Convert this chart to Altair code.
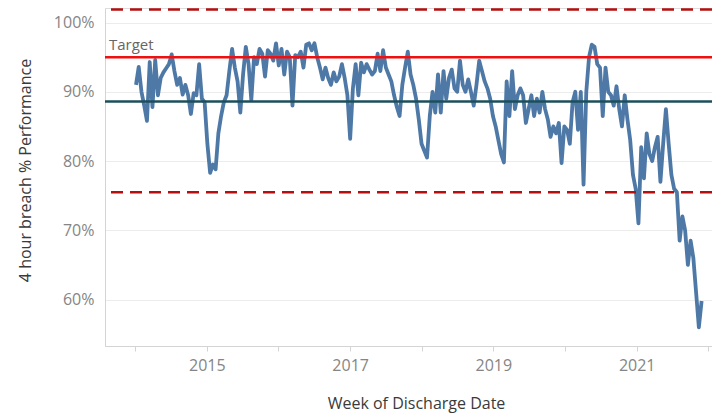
import altair as alt
import pandas as pd

# Fortnightly readings of the weekly 4-hour performance (%), starting first week of 2014
values = [
    91.0, 93.6, 90.0, 88.0, 85.8, 94.3, 87.8, 94.6, 89.5, 92.0,
    92.8, 93.4, 94.0, 95.4, 93.0, 91.0, 92.0, 89.6, 91.0, 89.5,
    86.8, 89.8, 89.5, 94.0, 89.0, 88.5, 82.5, 78.3, 79.5, 78.8,
    84.0, 86.5, 88.5, 89.5, 93.0, 96.2, 93.5, 91.5, 87.0, 92.5,
    96.5, 94.0, 88.8, 95.0, 94.0, 96.2, 95.5, 92.2, 96.0, 95.5,
    94.5, 97.0, 93.8, 96.2, 92.5, 95.8, 95.0, 88.0, 95.3, 95.0,
    95.8, 93.5, 96.8, 97.0, 96.0, 97.0, 95.0, 93.5, 91.8, 93.5,
    92.0, 91.0, 92.8, 91.5, 92.2, 94.0, 92.0, 89.5, 83.2, 90.5,
    94.0, 89.5, 94.2, 92.8, 94.0, 93.2, 92.5, 93.0, 95.5, 93.0,
    96.0, 93.5, 92.5, 91.5, 89.5, 87.8, 86.5, 91.0, 93.5, 95.8,
    92.5, 91.0, 89.0, 86.0, 82.5, 81.5, 80.5, 86.5, 90.0, 87.0,
    92.5, 87.0, 93.0, 89.0, 92.0, 93.2, 90.5, 90.0, 94.5, 91.0,
    90.0, 91.8, 90.0, 88.0, 91.0, 94.5, 93.0, 91.5, 90.5, 89.0,
    86.5, 85.0, 83.0, 81.0, 79.8, 91.5, 86.5, 93.0, 87.5, 89.5,
    90.5, 89.5, 85.5, 87.5, 89.5, 86.5, 89.0, 87.0, 90.0, 87.5,
    86.0, 83.5, 85.0, 84.0, 85.5, 79.7, 85.0, 84.5, 82.5, 88.5,
    90.0, 84.5, 90.0, 76.6, 90.0, 95.0, 96.8, 96.5, 94.0, 93.5,
    86.5, 93.5, 90.0, 89.5, 88.0, 90.8, 87.5, 85.0, 89.5, 86.0,
    83.0, 78.0, 76.0, 71.0, 82.0, 77.5, 84.0, 81.0, 80.0, 82.0,
    83.5, 77.0, 82.5, 87.5, 82.5, 78.0, 76.0, 75.5, 68.5, 72.0,
    70.0, 65.0, 68.5, 66.0, 61.0, 56.0, 59.8,
]
start_date = "2014-01-05"

target = [95.0]
mean_line = [88.6]
control_limits = [101.9, 75.5]
target_label = ["Target"]
tick_years = list(range(2014, 2023))

dates = pd.date_range(start_date, periods=len(values), freq="14D")
df = pd.DataFrame({"week": dates, "perf": values})

FONT = "Open Sans"
x_scale = alt.Scale(domain=[alt.DateTime(year=2013, month=7, date=31),
                            alt.DateTime(year=2022, month=1, date=20)])
y_scale = alt.Scale(domain=[53.3, 102.1], nice=False, zero=False)

x_axis = alt.Axis(
    values=[alt.DateTime(year=y, month=1, date=1) for y in tick_years],
    labelExpr="year(datum.value) % 2 == 1 ? timeFormat(datum.value, '%Y') : ''",
    grid=False, tickSize=5, tickColor="#d4d4d4", domainColor="#d4d4d4",
    labelFontSize=16, labelColor="#858585", labelPadding=6, labelFont=FONT,
    title="Week of Discharge Date", titleFontSize=16, titleColor="#3a3a3a",
    titleFontWeight=500, titleFont=FONT, titleX=311, titleY=57,
    titleBaseline="middle",
)
y_axis = alt.Axis(
    values=[60, 70, 80, 90, 100], labelExpr="datum.value + '%'",
    grid=True, gridColor="#ececec", ticks=False, domainColor="#d4d4d4",
    labelFontSize=16, labelColor="#858585", labelPadding=11, labelFont=FONT,
    title="4 hour breach % Performance", titleFontSize=16, titleColor="#3a3a3a",
    titleFontWeight=500, titleFont=FONT, titleX=-80, titleY=162,
    titleBaseline="middle",
)

line = alt.Chart(df).mark_line(color="#4e79a7", strokeWidth=3.8, strokeJoin="round").encode(
    x=alt.X("week:T", scale=x_scale, axis=x_axis),
    y=alt.Y("perf:Q", scale=y_scale, axis=y_axis),
)

mean_rule = alt.Chart(pd.DataFrame({"v": mean_line})).mark_rule(
    color="#1c4f5b", strokeWidth=2.5).encode(y=alt.Y("v:Q", scale=y_scale))
target_rule = alt.Chart(pd.DataFrame({"v": target})).mark_rule(
    color="#f01010", strokeWidth=2.5).encode(y=alt.Y("v:Q", scale=y_scale))
limit_rule = alt.Chart(pd.DataFrame({"v": control_limits})).mark_rule(
    color="#b50f0f", strokeWidth=2.5, strokeDash=[12, 7]).encode(y=alt.Y("v:Q", scale=y_scale))
target_text = alt.Chart(pd.DataFrame({"v": target, "t": target_label})).mark_text(
    align="left", baseline="bottom", dx=0, dy=-4, fontSize=15, color="#666666", font=FONT
).encode(x=alt.value(4), y=alt.Y("v:Q", scale=y_scale), text="t:N")

chart = alt.layer(line, mean_rule, target_rule, limit_rule, target_text).properties(
    width=607, height=338,
    padding={"left": 97, "top": 0, "right": 0, "bottom": 68},
    autosize=alt.AutoSizeParams(type="none"),
).configure_view(stroke=None).configure(font=FONT)

chart.save("out.html", embed_options={"renderer": "svg", "actions": False})
